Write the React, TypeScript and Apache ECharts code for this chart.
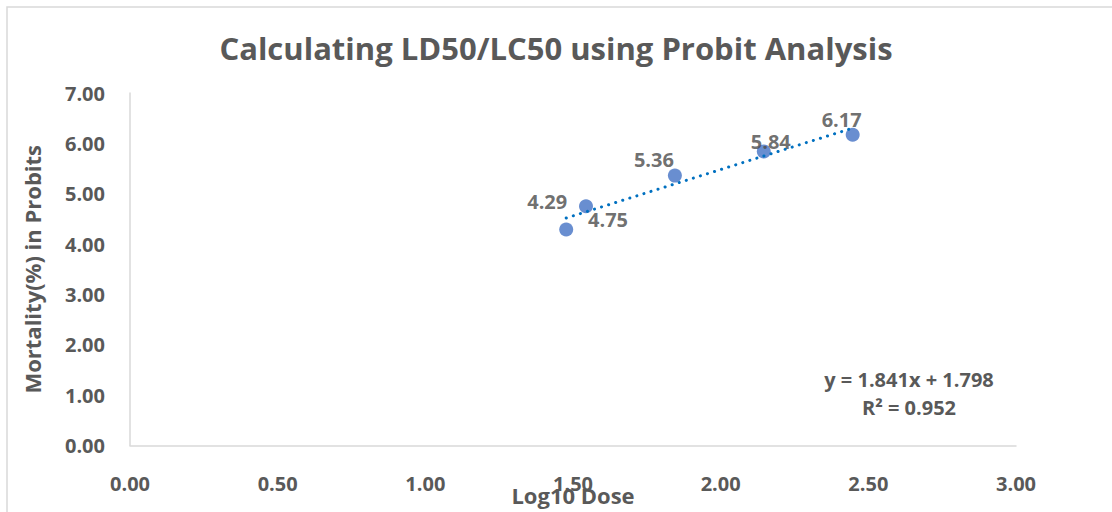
import React, { useEffect, useRef } from "react";
import * as echarts from "echarts";

const titleText = "Calculating LD50/LC50 using Probit Analysis";
const xAxisName = "Log10 Dose";
const yAxisName = "Mortality(%) in Probits";
const logDose = [1.477, 1.544, 1.845, 2.146, 2.447];
const probits = [4.29, 4.75, 5.36, 5.84, 6.17];
const labelOffsets: [number, number][] = [
  [-19, -28],
  [22, 13],
  [-21, -16],
  [7, -10],
  [-11, -15],
];
const trendSlope = 1.841;
const trendIntercept = 1.798;
const equationLines = ["y = 1.841x + 1.798", "R² = 0.952"];

const FONT = "'Open Sans', 'Noto Sans', sans-serif";
const GRAY = "#595959";

export default function App() {
  const ref = useRef<HTMLDivElement>(null);
  useEffect(() => {
    if (!ref.current) return;
    const chart = echarts.init(ref.current, undefined, { renderer: "svg" });
    const xStart = logDose[0];
    const xEnd = logDose[logDose.length - 1];
    const trendData = [
      [xStart, trendSlope * xStart + trendIntercept],
      [xEnd, trendSlope * xEnd + trendIntercept],
    ];
    chart.setOption({
      animation: false,
      backgroundColor: "#ffffff",
      textStyle: { fontFamily: FONT },
      title: {
        text: titleText,
        left: "center",
        top: 27,
        textStyle: { fontFamily: FONT, fontWeight: "bold", fontSize: 31, color: GRAY },
      },
      grid: {
        left: 130,
        right: 96,
        top: 93,
        bottom: 66.5,
        containLabel: false,
        outerBoundsMode: "none",
      },
      xAxis: {
        type: "value",
        min: 0,
        max: 3,
        interval: 0.5,
        name: xAxisName,
        nameLocation: "middle",
        nameGap: 38,
        nameMoveOverlap: false,
        nameTextStyle: { fontFamily: FONT, fontWeight: "bold", fontSize: 22, color: GRAY },
        axisLine: { show: true, lineStyle: { color: "#d9d9d9", width: 1.5 } },
        axisTick: { show: false },
        splitLine: { show: false },
        axisLabel: {
          margin: 28,
          fontFamily: FONT,
          fontWeight: "bold",
          fontSize: 20,
          color: GRAY,
          formatter: (v: number) => v.toFixed(2),
        },
      },
      yAxis: {
        type: "value",
        min: 0,
        max: 7,
        interval: 1,
        name: yAxisName,
        nameLocation: "middle",
        nameGap: 87,
        nameMoveOverlap: false,
        nameTextStyle: { fontFamily: FONT, fontWeight: "bold", fontSize: 22, color: GRAY },
        axisLine: { show: true, lineStyle: { color: "#d9d9d9", width: 1.5 } },
        axisTick: { show: false },
        splitLine: { show: false },
        axisLabel: {
          margin: 25,
          fontFamily: FONT,
          fontWeight: "bold",
          fontSize: 20,
          color: GRAY,
          formatter: (v: number) => v.toFixed(2),
        },
      },
      graphic: [
        {
          type: "rect",
          silent: true,
          shape: { x: 7, y: 7, width: 1300, height: 700 },
          style: { fill: "none", stroke: "#d9d9d9", lineWidth: 1.5 },
        },
        {
          type: "text",
          x: 909,
          y: 379,
          style: {
            text: equationLines[0],
            align: "center",
            verticalAlign: "middle",
            font: `bold 20px ${FONT}`,
            fill: GRAY,
          },
        },
        {
          type: "text",
          x: 909,
          y: 407,
          style: {
            text: equationLines[1],
            align: "center",
            verticalAlign: "middle",
            font: `bold 20px ${FONT}`,
            fill: GRAY,
          },
        },
      ],
      series: [
        {
          type: "scatter",
          symbolSize: 14,
          itemStyle: { color: "#4472C4" },
          data: logDose.map((x, i) => ({
            value: [x, probits[i]],
            label: {
              show: true,
              position: "inside",
              offset: labelOffsets[i],
              formatter: probits[i].toFixed(2),
              fontFamily: FONT,
              fontWeight: "bold",
              fontSize: 20,
              color: "#4a4a4a",
            },
          })),
          z: 2,
        },
        {
          type: "line",
          data: trendData,
          showSymbol: false,
          symbol: "none",
          lineStyle: { color: "#0070C0", width: 3, type: [0.1, 7.3], cap: "round" },
          z: 3,
        },
      ],
    });
    return () => chart.dispose();
  }, []);
  return (
    <div
      ref={ref}
      style={{ position: "absolute", left: 0, top: 0, width: 1112, height: 512 }}
    />
  );
}
